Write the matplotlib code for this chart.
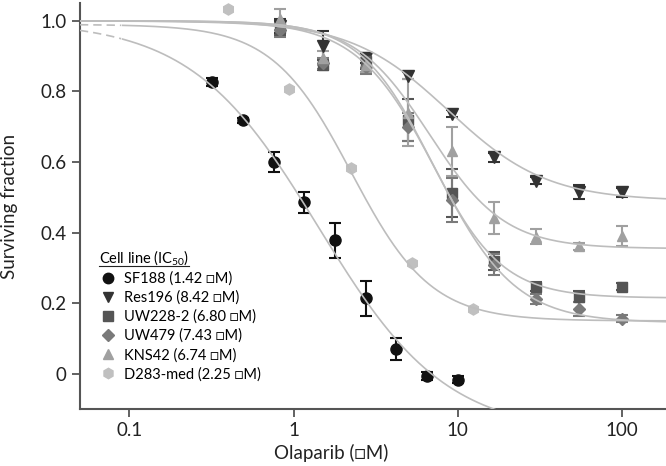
import matplotlib.pyplot as plt
import numpy as np
from matplotlib.lines import Line2D

plt.rcParams['font.family'] = ['Lato', 'DejaVu Sans']
plt.rcParams['mathtext.fontset'] = 'custom'
plt.rcParams['mathtext.rm'] = 'Lato'
plt.rcParams['mathtext.it'] = 'Lato'

# olaparib concentrations (uM)
conc_sf188 = [0.32, 0.49, 0.76, 1.16, 1.79, 2.76, 4.23, 6.47, 9.95]
conc_d283 = [0.40, 0.94, 2.24, 5.26, 12.4]
conc_other = [0.83, 1.52, 2.77, 5.0, 9.16, 16.6, 30.1, 55.0, 100.0]

# surviving fraction and errors
sf188 = [0.827, 0.718, 0.600, 0.486, 0.378, 0.214, 0.071, -0.006, -0.017]
sf188_err = [0.012, 0.008, 0.029, 0.030, 0.050, 0.049, 0.032, 0.010, 0.010]
res196 = [0.985, 0.930, 0.895, 0.845, 0.737, 0.613, 0.547, 0.516, 0.514]
res196_err = [0.02, 0.04, 0.015, 0.01, 0.01, 0.012, 0.01, 0.02, 0.012]
uw228 = [0.980, 0.875, 0.885, 0.720, 0.512, 0.320, 0.247, 0.219, 0.247]
uw228_err = [0.02, 0.015, 0.02, 0.06, 0.068, 0.025, 0.012, 0.015, 0.01]
uw479 = [0.975, 0.880, 0.870, 0.700, 0.493, 0.309, 0.212, 0.183, 0.156]
uw479_err = [0.02, 0.015, 0.02, 0.04, 0.062, 0.03, 0.015, 0.02, 0.01]
kns42 = [1.005, 0.895, 0.875, 0.740, 0.630, 0.441, 0.389, 0.361, 0.391]
kns42_err = [0.03, 0.02, 0.02, 0.095, 0.07, 0.045, 0.02, 0.01, 0.028]
d283 = [1.034, 0.807, 0.584, 0.315, 0.183]

labels = ['SF188 (1.42 \u25a1M)', 'Res196 (8.42 \u25a1M)', 'UW228-2 (6.80 \u25a1M)',
          'UW479 (7.43 \u25a1M)', 'KNS42 (6.74 \u25a1M)', 'D283-med (2.25 \u25a1M)']

# fitted 4-parameter logistic: top, bottom, IC50, hill
fit_top = [1.0, 1.0, 1.0, 1.0, 1.0, 0.99]
fit_bottom = [-0.17, 0.49, 0.215, 0.145, 0.355, 0.15]
fit_ic50 = [1.42, 8.8, 6.80, 7.43, 6.74, 2.25]
fit_hill = [1.12, 1.45, 2.0, 1.8, 1.9, 1.8]


def logistic(x, top, bottom, c, h):
    return bottom + (top - bottom) / (1 + (x / c) ** h)


def main():
    fig = plt.figure(figsize=(6.66, 4.66), dpi=100)
    ax = fig.add_axes([0.12, 0.122, 0.88, 0.871])

    xs = [conc_sf188, conc_other, conc_other, conc_other, conc_other, conc_d283]
    ys = [sf188, res196, uw228, uw479, kns42, d283]
    errs = [sf188_err, res196_err, uw228_err, uw479_err, kns42_err, None]
    colors = ['#111111', '#333333', '#555555', '#7a7a7a', '#a0a0a0', '#c0c0c0']
    markers = ['o', 'v', 's', 'D', '^', 'h']
    sizes = [8, 8, 7, 6.5, 7.5, 8]
    dashed_start = [True, False, False, False, False, True]

    xfit = np.logspace(np.log10(0.05), np.log10(190), 400)
    for i in range(6):
        yfit = logistic(xfit, fit_top[i], fit_bottom[i], fit_ic50[i], fit_hill[i])
        if dashed_start[i]:
            m = xfit <= 0.09
            ax.plot(xfit[m], yfit[m], color='#bdbdbd', lw=1.2, ls=(0, (5, 3)), zorder=4)
            ax.plot(xfit[~m], yfit[~m], color='#bdbdbd', lw=1.2, zorder=4)
        else:
            ax.plot(xfit, yfit, color='#bdbdbd', lw=1.2, zorder=4)

    handles = []
    for i in range(6):
        ax.errorbar(xs[i], ys[i], yerr=errs[i], fmt=markers[i], color=colors[i],
                    ms=sizes[i], mec=colors[i], capsize=4.5, capthick=1.5, elinewidth=1.5,
                    zorder=3)
        handles.append(Line2D([], [], ls='none', marker=markers[i], color=colors[i],
                              ms=sizes[i] - 0.5, label=labels[i]))

    ax.set_xscale('log')
    ax.set_xlim(0.05, 185)
    ax.set_ylim(-0.1, 1.05)
    ax.set_xticks([0.1, 1, 10, 100])
    ax.set_xticklabels(['0.1', '1', '10', '100'])
    ax.minorticks_off()
    ax.set_yticks([0, 0.2, 0.4, 0.6, 0.8, 1.0])
    ax.set_yticklabels(['0', '0.2', '0.4', '0.6', '0.8', '1.0'])

    for s in ['top', 'right']:
        ax.spines[s].set_visible(False)
    for s in ['left', 'bottom']:
        ax.spines[s].set_color('#555555')
        ax.spines[s].set_linewidth(1.5)
    ax.tick_params(axis='both', colors='#555555', width=1.3, length=6,
                   labelsize=13.5, labelcolor='#222222')

    ax.set_xlabel('Olaparib (\u25a1M)', fontsize=13.5, color='#222222')
    ax.xaxis.set_label_coords(0.428, -0.085)
    ax.set_ylabel('Surviving fraction', fontsize=13.5, color='#222222')
    ax.yaxis.set_label_coords(-0.105, 0.5)

    leg = ax.legend(handles=handles, loc='upper left', bbox_to_anchor=(0.01, 0.43),
                    frameon=False, fontsize=10.5, handletextpad=0.5, labelspacing=0.33,
                    title='Cell line (IC$_{50}$)',
                    title_fontsize=10.5, alignment='left', handlelength=1.2)

    # underline the legend title
    fig.canvas.draw()
    bb = leg.get_title().get_window_extent().transformed(fig.transFigure.inverted())
    fig.add_artist(Line2D([bb.x0, bb.x1], [bb.y0 + 0.002, bb.y0 + 0.002],
                          color='#222222', lw=0.8, transform=fig.transFigure))

    fig.savefig('out.png', dpi=100)


if __name__ == '__main__':
    main()
